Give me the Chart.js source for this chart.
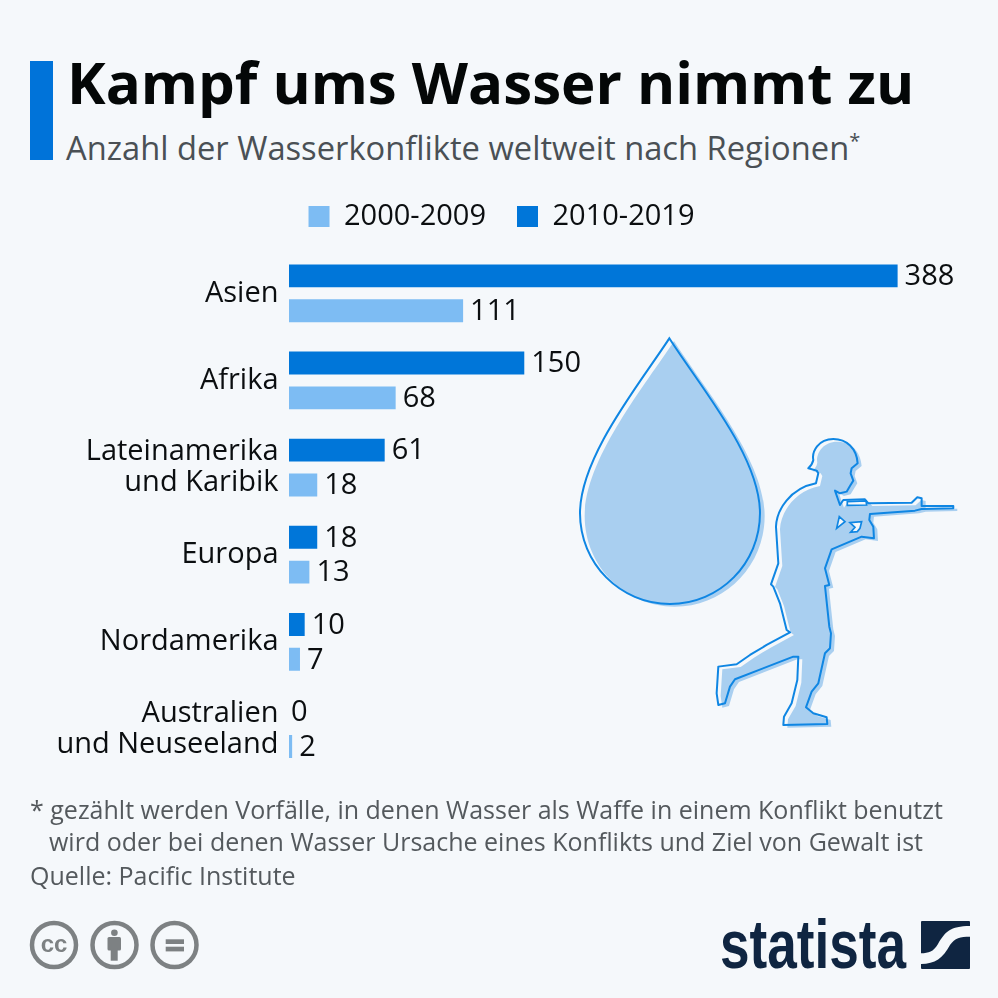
<!DOCTYPE html>
<html lang="de">
<head>
<meta charset="utf-8">
<title>Kampf ums Wasser nimmt zu</title>
<script src="https://cdn.jsdelivr.net/npm/chart.js@4/dist/chart.umd.min.js"></script>
<style>
html, body { margin: 0; padding: 0; background: #f5f8fb; }
body { width: 998px; height: 998px; position: relative; overflow: hidden; font-family: "Open Sans", sans-serif; }
canvas { position: absolute; left: 0; top: 0; }
.txt { position: absolute; white-space: nowrap; margin: 0; }
#bar { position: absolute; left: 30px; top: 61px; width: 23px; height: 99px; background: #0073d9; }
#title { left: 67px; top: 47px; font-size: 58.200px; line-height: 70px; font-weight: 700; color: #040707; }
#sub { left: 66px; top: 126px; font-size: 32.700px; line-height: 44px; color: #4a5055; }
#sub sup { font-size: 20px; line-height: 0; }
.note { font-size: 25px; line-height: 32px; color: #54595d; }
#art, #foot { position: absolute; left: 0; top: 0; }
</style>
</head>
<body>
<div id="bar"></div>
<h1 class="txt" id="title">Kampf ums Wasser nimmt zu</h1>
<div class="txt" id="sub">Anzahl der Wasserkonflikte weltweit nach Regionen<sup>*</sup></div>
<canvas id="chart" width="998" height="998"></canvas>
<div class="txt note" style="left:30px;top:793px">* gezählt werden Vorfälle, in denen Wasser als Waffe in einem Konflikt benutzt</div>
<div class="txt note" style="left:49px;top:825px">wird oder bei denen Wasser Ursache eines Konflikts und Ziel von Gewalt ist</div>
<div class="txt note" style="left:30px;top:859px">Quelle: Pacific Institute</div>

<svg id="art" width="998" height="998" viewBox="0 0 998 998">
  <g transform="translate(560 320) scale(0.3333)">
    <path fill="#a9cff0" transform="translate(14 8)" d="M328 55 C420 200 600 410 600 580 C600 730 480 852 330 852 C180 852 60 730 60 580 C60 410 240 190 328 55 Z"/>
    <path fill="none" stroke="#0f86e3" stroke-width="6" d="M328 55 C420 200 600 410 600 580 C600 730 480 852 330 852 C180 852 60 730 60 580 C60 410 240 190 328 55 Z"/>
    <path fill="#a9cff0" transform="translate(12 8)" d="M745 445 C752 438 758 432 760 420 C755 395 775 357 820 357 C860 357 890 385 893 430 L875 445 L872 460 L880 482 L870 498 L860 515 L840 520 L825 512 L840 555 L850 540 L915 538 L925 550 L1055 548 L1072 532 L1085 535 L1085 558 L1180 558 L1180 565 L1085 567 L1065 572 L930 582 L928 600 L940 620 L942 655 L905 650 L815 688 L795 745 L808 795 L795 798 L808 920 L813 940 L810 985 L795 1000 L775 1090 L755 1115 L738 1162 L760 1180 L800 1192 L802 1212 L670 1215 L672 1190 L695 1150 L712 1080 L715 1010 L700 1010 L525 1078 L510 1100 L495 1150 L475 1155 L470 1120 L475 1040 L530 1033 L570 1005 L620 975 L690 937 L680 930 L660 850 L640 800 L633 793 L655 730 L648 620 C650 570 690 505 768 490 L775 460 L770 452 Z"/>
    <path fill="none" stroke="#0f86e3" stroke-width="6" stroke-linejoin="round" d="M745 445 C752 438 758 432 760 420 C755 395 775 357 820 357 C860 357 890 385 893 430 L875 445 L872 460 L880 482 L870 498 L860 515 L840 520 L825 512 L840 555 L850 540 L915 538 L925 550 L1055 548 L1072 532 L1085 535 L1085 558 L1180 558 L1180 565 L1085 567 L1065 572 L930 582 L928 600 L940 620 L942 655 L905 650 L815 688 L795 745 L808 795 L795 798 L808 920 L813 940 L810 985 L795 1000 L775 1090 L755 1115 L738 1162 L760 1180 L800 1192 L802 1212 L670 1215 L672 1190 L695 1150 L712 1080 L715 1010 L700 1010 L525 1078 L510 1100 L495 1150 L475 1155 L470 1120 L475 1040 L530 1033 L570 1005 L620 975 L690 937 L680 930 L660 850 L640 800 L633 793 L655 730 L648 620 C650 570 690 505 768 490 L775 460 L770 452 Z"/>
    <path fill="#f5f8fb" stroke="#0f86e3" stroke-width="5" d="M838 590 L855 605 L830 625 Z M870 608 L905 605 L900 625 L892 635 L872 637 L885 622 Z M862 545 L918 543 L920 555 L862 556 Z"/>
  </g>
</svg>

<svg id="foot" width="998" height="998" viewBox="0 0 998 998">
  <g fill="none" stroke="#7d8183" stroke-width="4.500">
    <circle cx="54" cy="945" r="22"/>
    <circle cx="114.500" cy="945" r="22"/>
    <circle cx="174.500" cy="945" r="22"/>
  </g>
  <text x="54" y="952" text-anchor="middle" font-family="Liberation Sans" font-weight="700" font-size="24" fill="#7d8183">cc</text>
  <circle cx="114.400" cy="932.700" r="3.300" fill="#7d8183"/>
  <rect x="107.500" y="937" width="13.500" height="13.500" rx="1.500" fill="#7d8183"/>
  <rect x="110.700" y="948" width="7" height="12.700" fill="#7d8183"/>
  <rect x="165.700" y="939.300" width="18.300" height="4.700" fill="#7d8183"/>
  <rect x="165.700" y="946.700" width="18.300" height="4.700" fill="#7d8183"/>
  <text x="720" y="968" font-family="Liberation Sans Narrow, Liberation Sans" font-weight="700" font-size="68" fill="#0f2541" textLength="186" lengthAdjust="spacingAndGlyphs">statista</text>
  <rect x="921" y="921" width="49" height="48" rx="1" fill="#0f2541"/>
  <path fill="#f5f8fb" d="M970 926 C950 926 945 932 938 944 C933 952 929 953 921 953.300 L921 964 C935 964 943 958 950 945 C955 938 960 936.700 970 936.700 Z"/>
</svg>

<script>
var categories = ["Asien", "Afrika", ["Lateinamerika", "und Karibik"], "Europa", "Nordamerika", ["Australien", "und Neuseeland"]];
var values2010 = [388, 150, 61, 18, 10, 0];
var values2000 = [111, 68, 18, 13, 7, 2];

// writes the number right of every bar
var barValues = {
    id: "barValues",
    afterDatasetsDraw: function (chart) {
        var ctx = chart.ctx;
        ctx.save();
        ctx.font = "29px 'Open Sans'";
        ctx.fillStyle = "#0b0e10";
        ctx.textBaseline = "middle";
        chart.data.datasets.forEach(function (ds, i) {
            chart.getDatasetMeta(i).data.forEach(function (bar, j) {
                ctx.fillText(ds.data[j], bar.x + (ds.data[j] ? 7 : 2), bar.y + 1);
            });
        });
        ctx.restore();
    }
};

var waterChart = new Chart(document.getElementById("chart"), {
    type: "bar",
    data: {
        labels: categories,
        datasets: [
            { label: "2010-2019", data: values2010, backgroundColor: "#0076d9" },
            { label: "2000-2009", data: values2000, backgroundColor: "#7dbcf3" }
        ]
    },
    options: {
        indexAxis: "y",
        responsive: false,
        animation: false,
        categoryPercentage: 0.8,
        barPercentage: 0.657,
        layout: { padding: { top: 171, bottom: 225.400, right: 0, left: 5 } },
        plugins: {
            tooltip: { enabled: false },
            legend: {
                position: "top",
                reverse: true,
                maxHeight: 87.400,
                labels: {
                    boxWidth: 21,
                    boxHeight: 21,
                    padding: 31,
                    color: "#0b0e10",
                    font: { family: "'Open Sans'", size: 29 }
                }
            }
        },
        scales: {
            // hidden axis, only keeps some room between legend and bars
            x: {
                position: "top",
                min: 0,
                max: 452,
                grid: { display: false },
                border: { display: false },
                ticks: { display: false },
                afterFit: function (scale) { scale.height = 8.700; }
            },
            y: {
                grid: { display: false },
                border: { display: false },
                afterFit: function (scale) { scale.width = 284; },
                ticks: {
                    color: "#0b0e10",
                    padding: 2.500,
                    font: { family: "'Open Sans'", size: 29, lineHeight: 1.070 }
                }
            }
        }
    },
    plugins: [barValues]
});
</script>
</body>
</html>
